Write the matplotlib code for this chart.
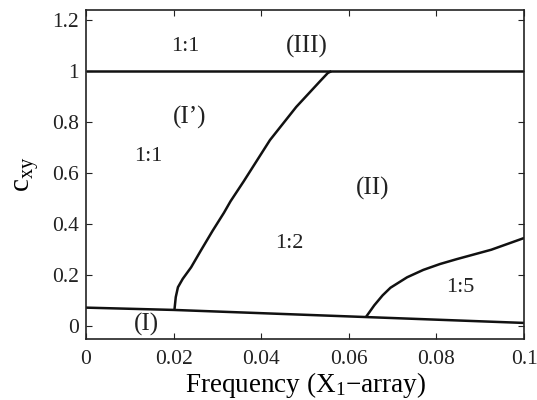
import matplotlib
matplotlib.use('Agg')
from matplotlib import pyplot as plt

# boundary curves in the (frequency, c_xy) plane
upper_x = [0.0, 0.1]
upper_y = [1.0, 1.0]

lower_x = [0.0, 0.02, 0.064, 0.1]
lower_y = [0.073, 0.064, 0.036, 0.013]

# branch separating (I') and (II)
branch1_x = [0.0202, 0.0205, 0.0210, 0.0221, 0.0240, 0.0262, 0.0289,
             0.0315, 0.0330, 0.0360, 0.0420, 0.0480, 0.0535, 0.0552, 0.0560]
branch1_y = [0.064, 0.114, 0.153, 0.186, 0.231, 0.296, 0.374,
             0.445, 0.490, 0.568, 0.730, 0.860, 0.962, 0.993, 1.0]

# branch bounding the 1:5 region
branch2_x = [0.0639, 0.0658, 0.0677, 0.0695, 0.0733, 0.0770, 0.0808,
             0.0846, 0.0925, 0.1]
branch2_y = [0.036, 0.082, 0.121, 0.151, 0.192, 0.221, 0.244,
             0.263, 0.300, 0.346]

# region labels: text, x, y, size
labels = [('1:1', 0.0226, 1.095, 16),
          ('(III)', 0.0505, 1.098, 18),
          ("(I\u2019)", 0.0237, 0.82, 18),
          ('1:1', 0.0142, 0.665, 16),
          ('(II)', 0.0655, 0.54, 18),
          ('1:2', 0.0465, 0.325, 16),
          ('1:5', 0.0855, 0.15, 16),
          ('(I)', 0.0137, 0.008, 18)]

plt.rcParams['font.family'] = 'Liberation Serif'
plt.rcParams['mathtext.fontset'] = 'custom'
plt.rcParams['mathtext.rm'] = 'Liberation Serif'
plt.rcParams['mathtext.it'] = 'Liberation Serif'

fig = plt.figure(figsize=(5.37, 4.0), dpi=100)
ax = fig.add_axes([0.160, 0.1525, 0.816, 0.8225])

for xs, ys in [(upper_x, upper_y), (lower_x, lower_y),
               (branch1_x, branch1_y), (branch2_x, branch2_y)]:
    ax.plot(xs, ys, color='#111111', lw=1.8, solid_capstyle='butt',
            solid_joinstyle='round')

for txt, x, y, fs in labels:
    ax.text(x, y, txt, fontsize=fs, ha='center', va='center', color='#222222')

ax.set_xlim(0, 0.1)
ax.set_ylim(-0.05, 1.24)
ax.set_xticks([0, 0.02, 0.04, 0.06, 0.08, 0.1])
ax.set_xticklabels(['0', '0.02', '0.04', '0.06', '0.08', '0.1'])
ax.set_yticks([0, 0.2, 0.4, 0.6, 0.8, 1.0, 1.2])
ax.set_yticklabels(['0', '0.2', '0.4', '0.6', '0.8', '1', '1.2'])
ax.tick_params(direction='in', top=True, right=True, length=4, width=0.8,
               labelsize=15.5, pad=5, colors='#222222')
ax.tick_params(axis='x', pad=8)
for s in ax.spines.values():
    s.set_linewidth(1.2)
    s.set_color('#222222')

ax.set_xlabel('Frequency (X$_1$\u2212array)', fontsize=19.5, labelpad=1)
ax.set_ylabel('c$_{\\mathrm{xy}}$', fontsize=21, labelpad=8)

plt.savefig('out.png', dpi=100)
